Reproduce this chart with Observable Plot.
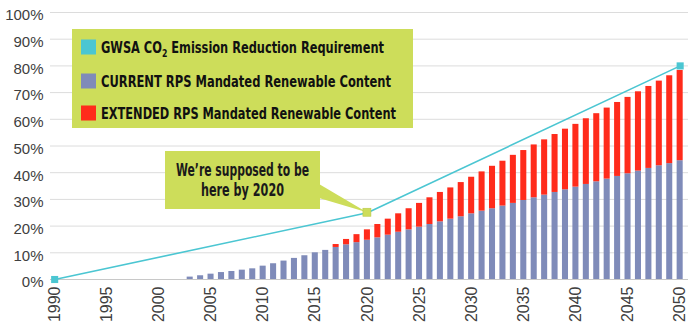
<!DOCTYPE html>
<html>
<head>
<meta charset="utf-8">
<script src="https://cdn.jsdelivr.net/npm/d3@7"></script>
<script src="https://cdn.jsdelivr.net/npm/@observablehq/plot@0.6"></script>
<style>
  html, body { margin: 0; padding: 0; background: #fff; }
  #chart svg { display: block; }
</style>
</head>
<body>
<div id="chart"></div>
<script>
// ---- data ----
const barYears = d3.range(2003, 2051);
const currentRPS = [0.9,1.4,2.0,2.6,3.0,3.5,4.0,5.0,5.9,6.9,7.9,8.9,10.0,10.9,
  12.0,13.0,13.8,14.7,15.6,16.6,17.7,18.6,19.6,20.6,21.6,22.6,23.5,24.6,25.6,26.5,27.5,28.5,
  29.6,30.6,31.6,32.6,33.6,34.6,35.6,36.6,37.6,38.6,39.6,40.6,41.6,42.6,43.4,44.5];
const extendedRPS = [0,0,0,0,0,0,0,0,0,0,0,0,0,0,
  1.1,2.0,3.0,3.9,5.0,6.0,6.9,7.9,8.9,10.0,11.0,11.7,12.8,13.7,14.7,15.9,16.8,18.0,
  18.7,19.8,20.7,21.7,22.7,23.5,24.6,25.5,26.6,27.7,28.6,29.7,30.7,31.7,32.9,33.8];
const gwsaYears = [1990, 2020, 2050];
const gwsaValues = [0, 25, 80];
const xTicks = d3.range(1990, 2051, 5);
const yTicks = d3.range(0, 101, 10);
const legendLabels = [
  "GWSA CO|2| Emission Reduction Requirement",
  "CURRENT RPS Mandated Renewable Content",
  "EXTENDED RPS Mandated Renewable Content"
];
const calloutLines = ["We\u2019re supposed to be", "here by 2020"];

// ---- colors ----
const cCyan = "#4bc6d2", cBlue = "#7f8bb9", cRed = "#ff2b1b", cLime = "#cddd5a";

const bars = barYears.map((year, i) => ({year, cur: currentRPS[i] / 100, ext: extendedRPS[i] / 100}));
const gwsa = gwsaYears.map((year, i) => ({year, v: gwsaValues[i] / 100}));
const halfW = 0.29;

const plot = Plot.plot({
  width: 688,
  height: 325,
  marginLeft: 50,
  marginRight: 0,
  marginTop: 12,
  marginBottom: 46,
  style: {fontFamily: "'Liberation Sans', Arial, sans-serif", fontSize: "15px", color: "#404040", background: "#fff"},
  x: {domain: [1989.6, 2050.8]},
  y: {domain: [0, 1]},
  marks: [
    Plot.ruleY(yTicks.filter(t => t > 0).map(t => t / 100), {stroke: "#dcdcdc", strokeWidth: 1}),
    Plot.ruleY([0], {stroke: "#c8c8c8", strokeWidth: 1.2}),
    Plot.rectY(bars, {x1: d => d.year - halfW, x2: d => d.year + halfW, y1: 0, y2: "cur", fill: cBlue}),
    Plot.rectY(bars.filter(d => d.ext > 0), {x1: d => d.year - halfW, x2: d => d.year + halfW, y1: "cur", y2: d => d.cur + d.ext, fill: cRed}),
    Plot.line(gwsa, {x: "year", y: "v", stroke: cCyan, strokeWidth: 1.6}),
    Plot.dot(gwsa.filter(d => d.year !== 2020), {x: "year", y: "v", symbol: "square", r: 4, fill: cCyan}),
    Plot.axisY({ticks: yTicks.map(t => t / 100), tickFormat: d3.format(".0%"), tickSize: 0, tickPadding: 7, label: null, dy: 3, fill: "#404040"}),
    Plot.axisX({ticks: xTicks, tickFormat: d => String(d), tickRotate: -90, tickSize: 0, tickPadding: 7, label: null, fill: "#404040", fontSize: 16})
  ]
});

document.getElementById("chart").appendChild(plot);

// ---- overlays: callout and legend ----
const sx = plot.scale("x"), sy = plot.scale("y");
const svg = d3.select(plot);
const condensed = "'Liberation Sans Narrow', 'Arial Narrow', 'DejaVu Sans Condensed', sans-serif";

// callout
const px = sx.apply(2020), py = sy.apply(0.25);
const cg = svg.append("g");
const bx = 165, by = 151, bw = 155, bh = 58;
cg.append("polygon")
  .attr("points", `${bx + bw - 1},${by + 33} ${px},${py} ${bx + bw - 1},${by + 47}`)
  .attr("fill", cLime);
cg.append("rect").attr("x", bx).attr("y", by).attr("width", bw).attr("height", bh).attr("fill", cLime);
const lineW = [133, 83];
calloutLines.forEach((t, i) => {
  cg.append("text")
    .attr("x", bx + bw / 2).attr("y", by + 25 + i * 19.5)
    .attr("text-anchor", "middle")
    .attr("font-family", condensed).attr("font-weight", "bold").attr("font-size", 17)
    .attr("fill", "#1a1a1a")
    .attr("textLength", lineW[i]).attr("lengthAdjust", "spacingAndGlyphs")
    .text(t);
});
cg.append("rect").attr("x", px - 4).attr("y", py - 4).attr("width", 8).attr("height", 8)
  .attr("fill", cLime).attr("stroke", "#b9c94a").attr("stroke-width", 0.6);

// legend
const lg = svg.append("g").attr("text-anchor", "start");
lg.append("rect").attr("x", 72).attr("y", 29).attr("width", 341).attr("height", 99).attr("fill", cLime);
const swatch = [cCyan, cBlue, cRed];
const rowY = [47, 81, 113];
const textW = [283, 290, 295];
legendLabels.forEach((lab, i) => {
  lg.append("rect").attr("x", 81).attr("y", rowY[i] - 7.5).attr("width", 15).attr("height", 15).attr("fill", swatch[i]);
  const t = lg.append("text")
    .attr("x", 101).attr("y", rowY[i] + 5.5)
    .attr("text-anchor", "start")
    .attr("font-family", condensed).attr("font-weight", "bold").attr("font-size", 16)
    .attr("fill", "#111")
    .attr("textLength", textW[i]).attr("lengthAdjust", "spacingAndGlyphs");
  lab.split("|").forEach((part, j) => {
    const ts = t.append("tspan").text(part);
    if (j === 1) ts.attr("font-size", 11).attr("dy", 4);
    if (j === 2) ts.attr("dy", -4);
  });
});
</script>
</body>
</html>
